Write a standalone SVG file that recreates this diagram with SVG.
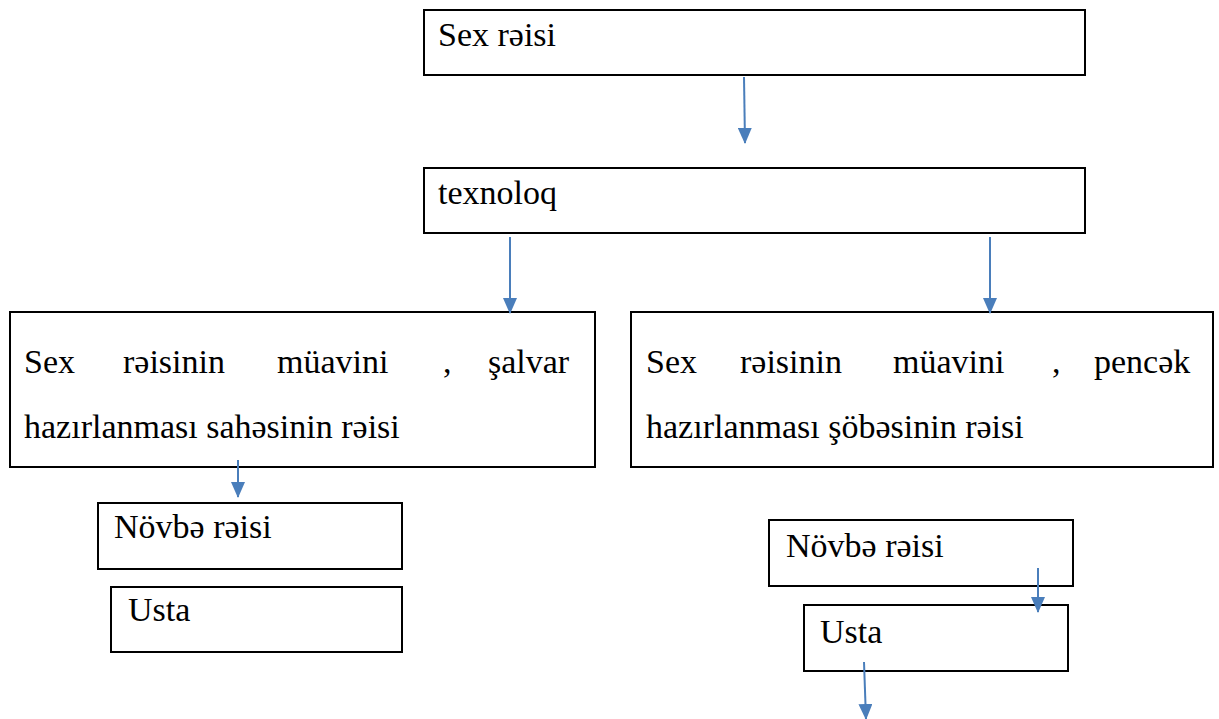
<svg xmlns="http://www.w3.org/2000/svg" width="1219" height="719" viewBox="0 0 1219 719" font-family="Liberation Serif, Times New Roman, DejaVu Serif, serif" font-size="34">
<defs>
<style>
.box{fill:#fff;stroke:#000;stroke-width:2}
.c{stroke:#4a7ebb;stroke-width:2;fill:none;marker-end:url(#ah)}
</style>
<marker id="ah" viewBox="0 0 16 14" refX="15" refY="7" markerWidth="16" markerHeight="14" markerUnits="userSpaceOnUse" orient="auto">
<path d="M0,0 L16,7 L0,14 Z" fill="#4a7ebb"/>
</marker>
</defs>
<rect width="1219" height="719" fill="#fff"/>
<g id="n1"><rect class="box" x="424" y="10" width="661" height="65"/><text x="438" y="46">Sex rəisi</text></g>
<g id="n2"><rect class="box" x="424" y="168" width="661" height="65"/><text x="438" y="204">texnoloq</text></g>
<g id="n3"><rect class="box" x="10" y="312" width="585" height="155"/>
<text y="373"><tspan x="24">Sex</tspan><tspan x="123">rəisinin</tspan><tspan x="277">müavini</tspan><tspan x="443">,</tspan><tspan x="488">şalvar</tspan></text>
<text x="24" y="438">hazırlanması sahəsinin rəisi</text></g>
<g id="n4"><rect class="box" x="631" y="312" width="582" height="155"/>
<text y="373"><tspan x="646">Sex</tspan><tspan x="740">rəisinin</tspan><tspan x="893">müavini</tspan><tspan x="1052">,</tspan><tspan x="1094">pencək</tspan></text>
<text x="646" y="438">hazırlanması şöbəsinin rəisi</text></g>
<g id="n5"><rect class="box" x="98" y="503" width="304" height="66"/><text x="114" y="538">Növbə rəisi</text></g>
<g id="n6"><rect class="box" x="111" y="587" width="291" height="65"/><text x="128" y="621">Usta</text></g>
<g id="n7"><rect class="box" x="769" y="520" width="304" height="66"/><text x="786" y="557">Növbə rəisi</text></g>
<g id="n8"><rect class="box" x="804" y="605" width="264" height="66"/><text x="820" y="643">Usta</text></g>
<g id="connectors">
<path class="c" d="M744,77 L745,143"/>
<path class="c" d="M510,237 L510,313"/>
<path class="c" d="M990,237 L990,313"/>
<path class="c" d="M238,460 L238,497"/>
<path class="c" d="M1038,568 L1038,612"/>
<path class="c" d="M864,662 L866,719"/>
</g>
</svg>
